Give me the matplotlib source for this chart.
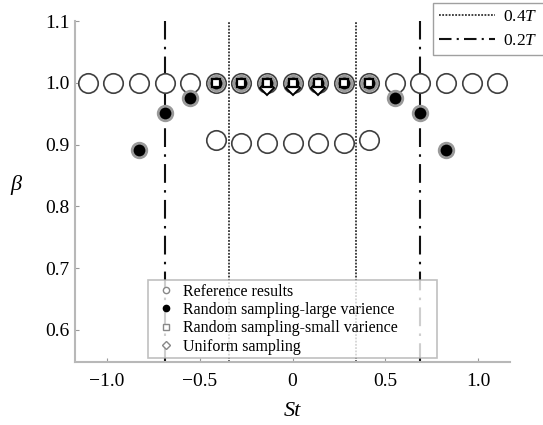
import matplotlib
matplotlib.use("Agg")
import matplotlib.pyplot as plt
from matplotlib.lines import Line2D

plt.rcParams['font.family'] = ['Liberation Serif', 'DejaVu Serif']
plt.rcParams['mathtext.fontset'] = 'custom'
plt.rcParams['mathtext.rm'] = 'Liberation Serif'
plt.rcParams['mathtext.it'] = 'Liberation Serif:italic'

# ---- data ----
st_all = [-1.104, -0.966, -0.828, -0.690, -0.552, -0.414, -0.276, -0.138, 0.0,
          0.138, 0.276, 0.414, 0.552, 0.690, 0.828, 0.966, 1.104]
beta_ref_top = [1.0] * 17
st_mid = [-0.414, -0.276, -0.138, 0.0, 0.138, 0.276, 0.414]
beta_ref_low = [0.907, 0.902, 0.902, 0.902, 0.902, 0.903, 0.907]

st_large = [-0.828, -0.690, -0.552, -0.414, -0.276, -0.138, 0.0,
            0.138, 0.276, 0.414, 0.552, 0.690, 0.828]
beta_large = [0.891, 0.951, 0.975, 1.0, 1.0, 1.0, 1.0, 1.0, 1.0, 1.0, 0.975, 0.951, 0.891]

st_small = [-0.414, -0.276, -0.138, 0.0, 0.138, 0.276, 0.414]
beta_small = [1.0, 1.0, 1.0, 1.0, 1.0, 1.0, 1.0]

st_uniform = [-0.138, 0.0, 0.138]
beta_uniform = [0.991, 0.991, 0.991]

st_04T = [-0.345, 0.345]
st_02T = [-0.690, 0.690]

ref_labels = ['Reference results', 'Random sampling-large varience',
              'Random sampling-small varience', 'Uniform sampling']
line_labels = [r'$0.4\mathit{T}$', r'$0.2\mathit{T}$']

# ---- figure ----
fig = plt.figure(figsize=(5.43, 4.25), dpi=100)
ax = fig.add_axes([75/543, 63/425, 435/543, 341/425])

spine_c = '#b8b8b8'
for s in ['top', 'right']:
    ax.spines[s].set_visible(False)
for s in ['left', 'bottom']:
    ax.spines[s].set_color(spine_c)
    ax.spines[s].set_linewidth(1.5)
ax.tick_params(direction='in', length=3, width=0.8, color='#999999',
               labelsize=14)
ax.tick_params(axis='y', pad=4)
ax.tick_params(axis='x', pad=8)

for x in st_04T:
    ax.axvline(x, color='#333333', lw=1.3, linestyle=(0, (1, 0.8)), zorder=1)
for x in st_02T:
    ax.axvline(x, color='#111111', lw=1.5, linestyle=(0, (9, 3.5, 1.2, 3.5)), zorder=1)

ax.plot(st_all, beta_ref_top, 'o', ms=14, mfc='white', mec='#404040', mew=1.2, zorder=2)
ax.plot(st_mid, beta_ref_low, 'o', ms=14, mfc='white', mec='#404040', mew=1.2, zorder=2)
ax.plot(st_large, beta_large, 'o', ms=10.5, mfc='black', mec='#9a9a9a', mew=2.0, zorder=3)
ax.plot(st_uniform, beta_uniform, 'D', ms=7, mfc='white', mec='black', mew=1.4, zorder=4)
ax.plot(st_small, beta_small, 's', ms=6, mfc='white', mec='black', mew=1.6, zorder=5)

ax.set_xlim(-1.173, 1.173)
ax.set_ylim(0.548, 1.1)
ax.set_xticks([-1.0, -0.5, 0, 0.5, 1.0])
ax.set_xticklabels(['\u22121.0', '\u22120.5', '0', '0.5', '1.0'])
ax.set_yticks([0.6, 0.7, 0.8, 0.9, 1.0, 1.1])
ax.set_yticklabels(['0.6', '0.7', '0.8', '0.9', '1.0', '1.1'])

fig.text(16/543, 1 - 185/425, '\u03b2', fontsize=16, style='italic',
         ha='center', va='center')
fig.text(292/543, 1 - 412/425, 'St', fontsize=16, style='italic',
         ha='center', va='center')

handles = [
    Line2D([], [], ls='none', marker='o', ms=4.5, mfc='white', mec='#888888', mew=1),
    Line2D([], [], ls='none', marker='o', ms=4.5, mfc='black', mec='black', mew=1),
    Line2D([], [], ls='none', marker='s', ms=4.5, mfc='white', mec='#888888', mew=1),
    Line2D([], [], ls='none', marker='D', ms=4, mfc='white', mec='#888888', mew=1),
]
leg = ax.legend(handles, ref_labels, loc='lower left',
                bbox_to_anchor=(73/435, 4/341, 289/435, 76/341), mode='expand',
                fontsize=11.5, frameon=True, fancybox=False, handlelength=1.8,
                handletextpad=0.2, labelspacing=0.15, borderpad=0.2,
                borderaxespad=0)
leg.get_frame().set_edgecolor('#b0b0b0')
leg.get_frame().set_linewidth(1.2)

lhandles = [
    Line2D([], [], color='#333333', lw=1.3, linestyle=(0, (1, 0.8))),
    Line2D([], [], color='#111111', lw=1.5, linestyle=(0, (6, 2.5, 1, 2.5))),
]
leg2 = fig.legend(lhandles, line_labels, loc='upper left',
                  bbox_to_anchor=(433/543, 1 - 3/425), fontsize=12.5,
                  frameon=True, fancybox=False, handlelength=3.2,
                  handletextpad=0.5, labelspacing=0.45, borderpad=0.35,
                  borderaxespad=0)
leg2.get_frame().set_edgecolor('#888888')
leg2.get_frame().set_linewidth(1.0)

fig.savefig('out.png', dpi=100)
